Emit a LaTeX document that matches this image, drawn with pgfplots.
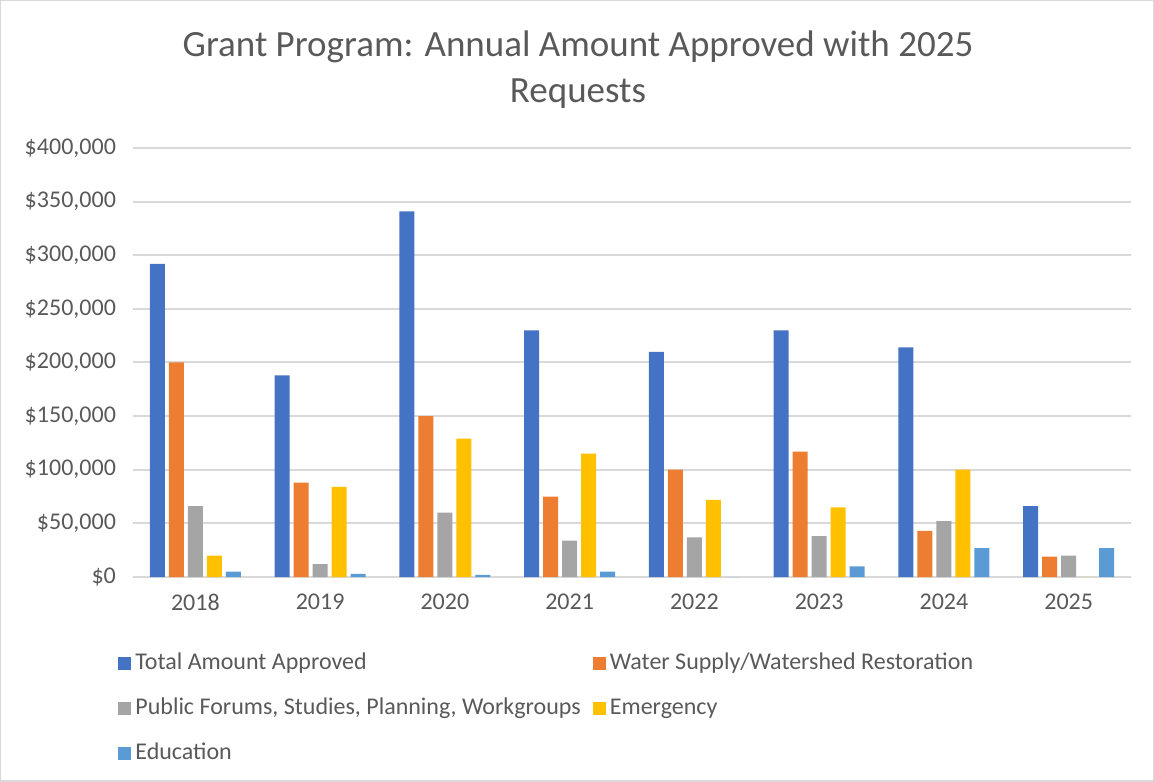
\documentclass[border=0pt]{standalone}
\usepackage{fontspec}
\setmainfont{Carlito}
\usepackage{pgfplots}
\usepackage{pgfplotstable}
\pgfplotsset{compat=1.18}
\definecolor{cBlue}{HTML}{4472C4}
\definecolor{cOrange}{HTML}{ED7D31}
\definecolor{cGray}{HTML}{A5A5A5}
\definecolor{cGold}{HTML}{FFC000}
\definecolor{cSky}{HTML}{5B9BD5}
\definecolor{txt}{HTML}{595959}
\definecolor{gridc}{HTML}{D9D9D9}

% year index: 0=2018 ... 7=2025
\pgfplotstableread{
x total  water  forums emerg  edu
0 292000 200000 66000  20000  5000
1 188000 88000  12000  84000  3000
2 341000 150000 60000  129000 2000
3 230000 75000  34000  115000 5000
4 210000 100000 37000  72000  0
5 230000 117000 38000  65000  10000
6 214000 43000  52000  100000 27000
7 66000  19000  20000  0      27000
}\grants

\begin{document}
\begin{tikzpicture}
\draw[gridc, line width=0.75pt] (0.4pt,0.4pt) rectangle (576.6pt,390.6pt);
\node[font=\fontsize{18.5}{23}\selectfont, text=txt, align=center] at (289pt,356pt)
  {Grant Program: Annual Amount Approved with 2025\\Requests};
\begin{axis}[
    at={(66.5pt,102.5pt)}, anchor=south west,
    scale only axis, width=499pt, height=214.5pt,
    ybar=2pt, bar width=7.5pt,
    xmin=-0.5, xmax=7.5, ymin=0, ymax=400000,
    xtick={0,...,7},
    xticklabels={2018,2019,2020,2021,2022,2023,2024,2025},
    ytick={0,50000,...,400000},
    scaled y ticks=false,
    yticklabels={\$0,{\$50,000},{\$100,000},{\$150,000},{\$200,000},{\$250,000},{\$300,000},{\$350,000},{\$400,000}},
    ymajorgrids, grid style={gridc, line width=1pt},
    axis line style={draw=none},
    major tick length=0pt,
    tick label style={font=\fontsize{12}{14}\selectfont, text=txt},
    yticklabel style={xshift=-5pt},
    xticklabel style={yshift=-5pt},
    legend columns=2,
    legend image code/.code={\fill[#1,draw=none] (0pt,-3.25pt) rectangle (6.5pt,3.25pt);},
    legend style={at={(-0.015,-0.163)}, anchor=north west, draw=none, fill=none,
      inner sep=0pt, row sep=6.5pt,
      font=\fontsize{12}{14}\selectfont, text=txt,
      nodes={inner sep=2pt, text height=9pt, text depth=3pt},
      /tikz/column 2/.style={column sep=4pt}},
    legend cell align=left,
]
\addplot[fill=cBlue, draw=none] table[x=x, y=total] {\grants};
\addplot[fill=cOrange, draw=none] table[x=x, y=water] {\grants};
\addplot[fill=cGray, draw=none] table[x=x, y=forums] {\grants};
\addplot[fill=cGold, draw=none] table[x=x, y=emerg] {\grants};
\addplot[fill=cSky, draw=none] table[x=x, y=edu] {\grants};
\legend{Total Amount Approved, Water Supply/Watershed Restoration,
  {Public Forums, Studies, Planning, Workgroups}, Emergency, Education}
\end{axis}
\end{tikzpicture}
\end{document}
